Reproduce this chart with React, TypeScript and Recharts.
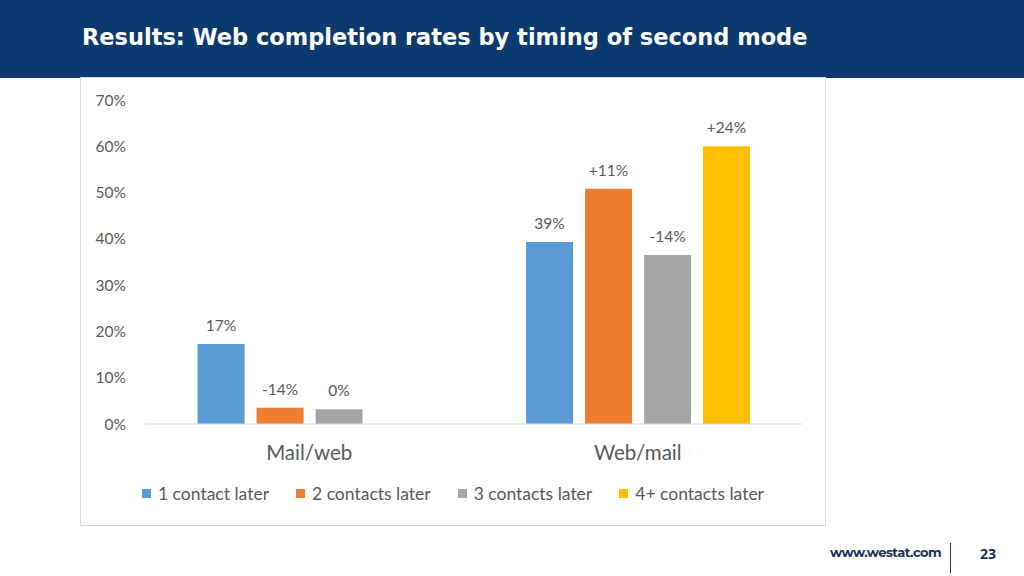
import React from "react";
import { BarChart, Bar, XAxis, YAxis, Legend, LabelList } from "recharts";

const categories = ["Mail/web", "Web/mail"];
const seriesNames = ["1 contact later", "2 contacts later", "3 contacts later", "4+ contacts later"];
const oneLater = [17.3, 39.3];
const twoLater = [3.5, 50.8];
const threeLater = [3.2, 36.5];
const fourLater: (number | null)[] = [null, 60.0];
const oneLabels = ["17%", "39%"];
const twoLabels = ["-14%", "+11%"];
const threeLabels = ["0%", "-14%"];
const fourLabels = ["", "+24%"];
const yTicks = [0, 10, 20, 30, 40, 50, 60, 70];
const colors = ["#5b9bd5", "#ed7d31", "#a5a5a5", "#ffc000"];

const data = categories.map((c, i) => ({
  name: c,
  s1: oneLater[i],
  s2: twoLater[i],
  s3: threeLater[i],
  s4: fourLater[i],
  l1: oneLabels[i],
  l2: twoLabels[i],
  l3: threeLabels[i],
  l4: fourLabels[i],
}));

const FONT = "Lato, 'Open Sans', sans-serif";
const TXT = "#595959";

const LegendContent = () => (
  <div style={{ display: "flex", justifyContent: "center", fontFamily: FONT, fontSize: 17.5, color: TXT }}>
    {seriesNames.map((n, i) => (
      <div key={n} style={{ display: "flex", alignItems: "center", marginRight: i < 3 ? 27 : 0 }}>
        <span style={{ width: 9, height: 9, background: colors[i], display: "inline-block", marginRight: 7 }} />
        <span>{n}</span>
      </div>
    ))}
  </div>
);

export default function App() {
  const keys = ["s1", "s2", "s3", "s4"];
  const lbls = ["l1", "l2", "l3", "l4"];
  return (
    <div style={{ position: "absolute", left: 0, top: 0, width: 1024, height: 576, background: "#fff", overflow: "hidden" }}>
      <div style={{ position: "absolute", left: 0, top: 0, width: 1024, height: 78, background: "#0b3a6f" }}>
        <div
          style={{
            position: "absolute",
            left: 82,
            top: 24,
            color: "#fff",
            fontFamily: "'DejaVu Sans', Verdana, sans-serif",
            fontWeight: "bold",
            fontSize: 22.5,
            whiteSpace: "nowrap",
          }}
        >
          Results: Web completion rates by timing of second mode
        </div>
      </div>
      <div
        style={{
          position: "absolute",
          left: 80,
          top: 77,
          width: 744,
          height: 447,
          border: "1px solid #d9d9d9",
          background: "#fff",
        }}
      >
        <BarChart
          width={744}
          height={447}
          data={data}
          margin={{ top: 22, right: 23, left: 14, bottom: 0 }}
          barCategoryGap="16%"
          barGap={12}
        >
          <XAxis
            dataKey="name"
            height={101}
            tickLine={false}
            tickSize={0}
            tickMargin={21}
            axisLine={{ stroke: "#d9d9d9" }}
            tick={{ fill: TXT, fontSize: 20.5, fontFamily: FONT }}
          />
          <YAxis
            width={50}
            domain={[0, 70]}
            ticks={yTicks}
            tickFormatter={(v: number) => `${v}%`}
            tickLine={false}
            axisLine={false}
            tickSize={0}
            tickMargin={19}
            tick={{ fill: TXT, fontSize: 15.5, fontFamily: FONT }}
          />
          <Legend
            verticalAlign="middle"
            align="center"
            layout="horizontal"
            content={<LegendContent />}
            wrapperStyle={{ top: 405, left: 0, width: 744 }}
          />
          {keys.map((k, i) => (
            <Bar key={k} dataKey={k} name={seriesNames[i]} fill={colors[i]} isAnimationActive={false}>
              <LabelList dataKey={lbls[i]} position="top" offset={13} fill={TXT} fontSize={15.5} fontFamily={FONT} />
            </Bar>
          ))}
        </BarChart>
      </div>
      <div
        style={{
          position: "absolute",
          left: 830,
          top: 544,
          fontFamily: "Montserrat, 'Open Sans', sans-serif",
          fontWeight: "bold",
          fontSize: 13,
          color: "#1b2f5c",
          letterSpacing: -0.5,
        }}
      >
        www.westat.com
      </div>
      <div style={{ position: "absolute", left: 950, top: 543, width: 1, height: 30, background: "#1b2f5c" }} />
      <div
        style={{
          position: "absolute",
          left: 980,
          top: 544,
          fontFamily: "'Open Sans', sans-serif",
          fontWeight: "bold",
          fontSize: 14,
          color: "#1b2f5c",
        }}
      >
        23
      </div>
    </div>
  );
}
